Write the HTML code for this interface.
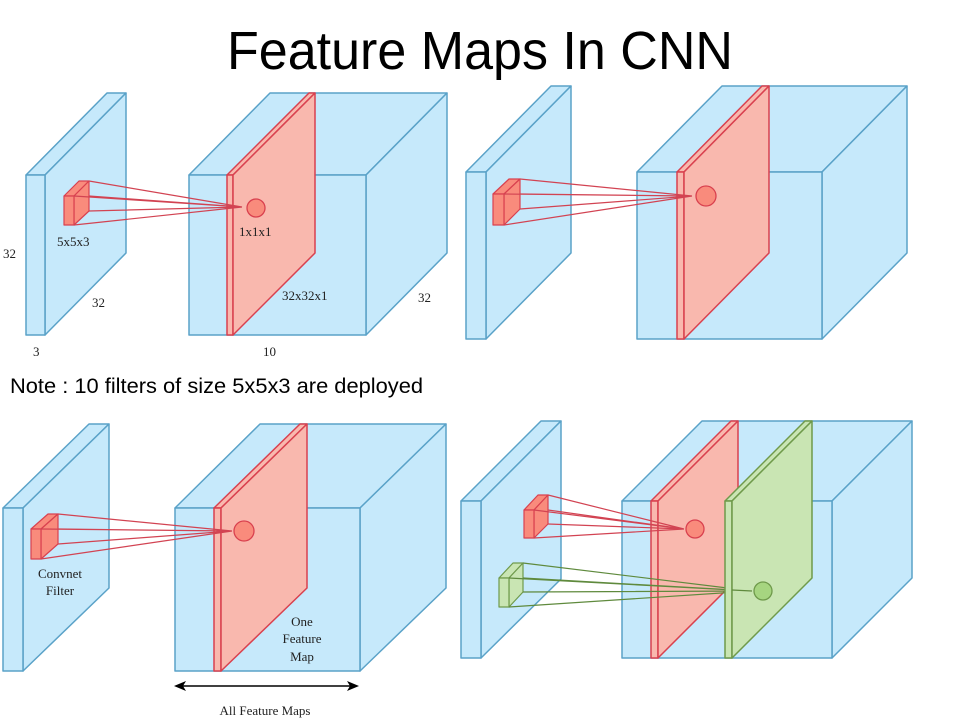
<!DOCTYPE html>
<html><head><meta charset="utf-8"><style>
html,body{margin:0;padding:0;background:#fff;width:960px;height:720px;overflow:hidden}
svg{display:block}
.b{fill:#c6e9fb;stroke:#5aa2c8;stroke-width:1.5;stroke-linejoin:round}
.r{fill:#f9b8ae;stroke:#d9414f;stroke-width:1.5;stroke-linejoin:round}
.rf{fill:#f98b7c;stroke:#d9414f;stroke-width:1.2;stroke-linejoin:round}
.rl{stroke:#d24352;stroke-width:1.2;fill:none}
.g{fill:#c9e5b3;stroke:#6f9a4b;stroke-width:1.5;stroke-linejoin:round}
.gf{fill:#c9e5b3;stroke:#6f9a4b;stroke-width:1.2;stroke-linejoin:round}
.gl{stroke:#5f8a3d;stroke-width:1.2;fill:none}
.t{font-family:"Liberation Serif",serif;font-size:13px;fill:#222}
</style></head><body>
<svg width="960" height="720" viewBox="0 0 960 720" xmlns="http://www.w3.org/2000/svg">
<text x="480" y="69" text-anchor="middle" font-family="Liberation Sans, sans-serif" font-size="54" textLength="506" lengthAdjust="spacingAndGlyphs" fill="#000">Feature Maps In CNN</text>
<text x="10" y="393" font-family="Liberation Sans, sans-serif" font-size="21" textLength="413" lengthAdjust="spacingAndGlyphs" fill="#000">Note : 10 filters of size 5x5x3 are deployed</text>

<!-- Panel 1 -->
<g>
<polygon class="b" points="26,175 45,175 126,93 107,93"/>
<polygon class="b" points="45,175 126,93 126,253 45,335"/>
<rect class="b" x="26" y="175" width="19" height="160"/>
<polygon class="rf" points="64,196 74,196 89,181 79,181"/>
<polygon class="rf" points="74,196 89,181 89,211 74,225"/>
<rect class="rf" x="64" y="196" width="10" height="29"/>
<polygon class="b" points="189,175 366,175 447,93 270,93"/>
<polygon class="b" points="366,175 447,93 447,253 366,335"/>
<rect class="b" x="189" y="175" width="177" height="160"/>
<polygon class="r" points="227,175 233,175 315,93 309,93"/>
<rect class="r" x="227" y="175" width="6" height="160"/>
<polygon class="r" points="233,175 315,93 315,253 233,335"/>
<path class="rl" d="M89,181 L242,207 M74,196 L242,207 M89,211 L242,207 M74,225 L242,207 M89,196 L242,207"/>
<circle cx="256" cy="208" r="9" fill="#f98b7c" stroke="#d9414f" stroke-width="1.3"/>
<text class="t" x="57" y="246">5x5x3</text>
<text class="t" x="3" y="258">32</text>
<text class="t" x="92" y="307">32</text>
<text class="t" x="33" y="356">3</text>
<text class="t" x="239" y="236">1x1x1</text>
<text class="t" x="282" y="300">32x32x1</text>
<text class="t" x="418" y="302">32</text>
<text class="t" x="263" y="356">10</text>
</g>

<!-- Panel 2 -->
<g>
<polygon class="b" points="466,172 486,172 571,86 551,86"/>
<polygon class="b" points="486,172 571,86 571,253 486,339"/>
<rect class="b" x="466" y="172" width="20" height="167"/>
<polygon class="rf" points="493,194 504,194 520,179 509,179"/>
<polygon class="rf" points="504,194 520,179 520,209 504,225"/>
<rect class="rf" x="493" y="194" width="11" height="31"/>
<polygon class="b" points="637,172 822,172 907,86 722,86"/>
<polygon class="b" points="822,172 907,86 907,253 822,339"/>
<rect class="b" x="637" y="172" width="185" height="167"/>
<polygon class="r" points="677,172 684,172 769,86 762,86"/>
<rect class="r" x="677" y="172" width="7" height="167"/>
<polygon class="r" points="684,172 769,86 769,253 684,339"/>
<path class="rl" d="M520,179 L692,196 M504,194 L692,196 M520,209 L692,196 M504,225 L692,196 M520,194 L692,196"/>
<circle cx="706" cy="196" r="10" fill="#f98b7c" stroke="#d9414f" stroke-width="1.3"/>
</g>

<!-- Panel 3 -->
<g>
<polygon class="b" points="3,508 23,508 109,424 89,424"/>
<polygon class="b" points="23,508 109,424 109,588 23,671"/>
<rect class="b" x="3" y="508" width="20" height="163"/>
<polygon class="rf" points="31,529 41,529 58,514 48,514"/>
<polygon class="rf" points="41,529 58,514 58,544 41,559"/>
<rect class="rf" x="31" y="529" width="10" height="30"/>
<polygon class="b" points="175,508 360,508 446,424 260,424"/>
<polygon class="b" points="360,508 446,424 446,588 360,671"/>
<rect class="b" x="175" y="508" width="185" height="163"/>
<polygon class="r" points="214,508 221,508 307,424 300,424"/>
<rect class="r" x="214" y="508" width="7" height="163"/>
<polygon class="r" points="221,508 307,424 307,588 221,671"/>
<path class="rl" d="M58,514 L232,531 M41,529 L232,531 M58,544 L232,531 M41,559 L232,531 M58,529 L232,531"/>
<circle cx="244" cy="531" r="10" fill="#f98b7c" stroke="#d9414f" stroke-width="1.3"/>
<text class="t" x="60" y="578" text-anchor="middle" font-size="14">Convnet</text>
<text class="t" x="60" y="595" text-anchor="middle" font-size="14">Filter</text>
<text class="t" x="302" y="626" text-anchor="middle" font-size="14">One</text>
<text class="t" x="302" y="643" text-anchor="middle" font-size="14">Feature</text>
<text class="t" x="302" y="661" text-anchor="middle" font-size="14">Map</text>
<line x1="180" y1="686" x2="353" y2="686" stroke="#000" stroke-width="1.5"/>
<polygon points="174,686 186,681 183,686 186,691" fill="#000"/>
<polygon points="359,686 347,681 350,686 347,691" fill="#000"/>
<text class="t" x="265" y="715" text-anchor="middle" font-size="13">All Feature Maps</text>
</g>

<!-- Panel 4 -->
<g>
<polygon class="b" points="461,501 481,501 561,421 541,421"/>
<polygon class="b" points="481,501 561,421 561,579 481,658"/>
<rect class="b" x="461" y="501" width="20" height="157"/>
<polygon class="rf" points="524,510 534,510 548,495 538,495"/>
<polygon class="rf" points="534,510 548,495 548,524 534,538"/>
<rect class="rf" x="524" y="510" width="10" height="28"/>
<polygon class="gf" points="499,578 509,578 523,563 513,563"/>
<polygon class="gf" points="509,578 523,563 523,592 509,607"/>
<rect class="gf" x="499" y="578" width="10" height="29"/>
<polygon class="b" points="622,501 832,501 912,421 702,421"/>
<polygon class="b" points="832,501 912,421 912,578 832,658"/>
<rect class="b" x="622" y="501" width="210" height="157"/>
<polygon class="r" points="651,501 658,501 738,421 731,421"/>
<rect class="r" x="651" y="501" width="7" height="157"/>
<polygon class="r" points="658,501 738,421 738,578 658,658"/>
<path class="rl" d="M548,495 L684,529 M534,510 L684,529 M548,524 L684,529 M534,538 L684,529 M548,510 L684,529"/>
<circle cx="695" cy="529" r="9" fill="#f98b7c" stroke="#d9414f" stroke-width="1.3"/>
<path class="gl" d="M523,563 L752,591 M509,578 L752,591 M523,592 L752,591 M509,607 L752,591 M523,578 L752,591"/>
<polygon class="g" points="725,501 732,501 812,421 805,421"/>
<rect class="g" x="725" y="501" width="7" height="157"/>
<polygon class="g" points="732,501 812,421 812,578 732,658"/>
<path class="gl" d="M732,590 L752,591"/>
<circle cx="763" cy="591" r="9" fill="#a6d580" stroke="#6f9a4b" stroke-width="1.3"/>
</g>
</svg>
</body></html>
